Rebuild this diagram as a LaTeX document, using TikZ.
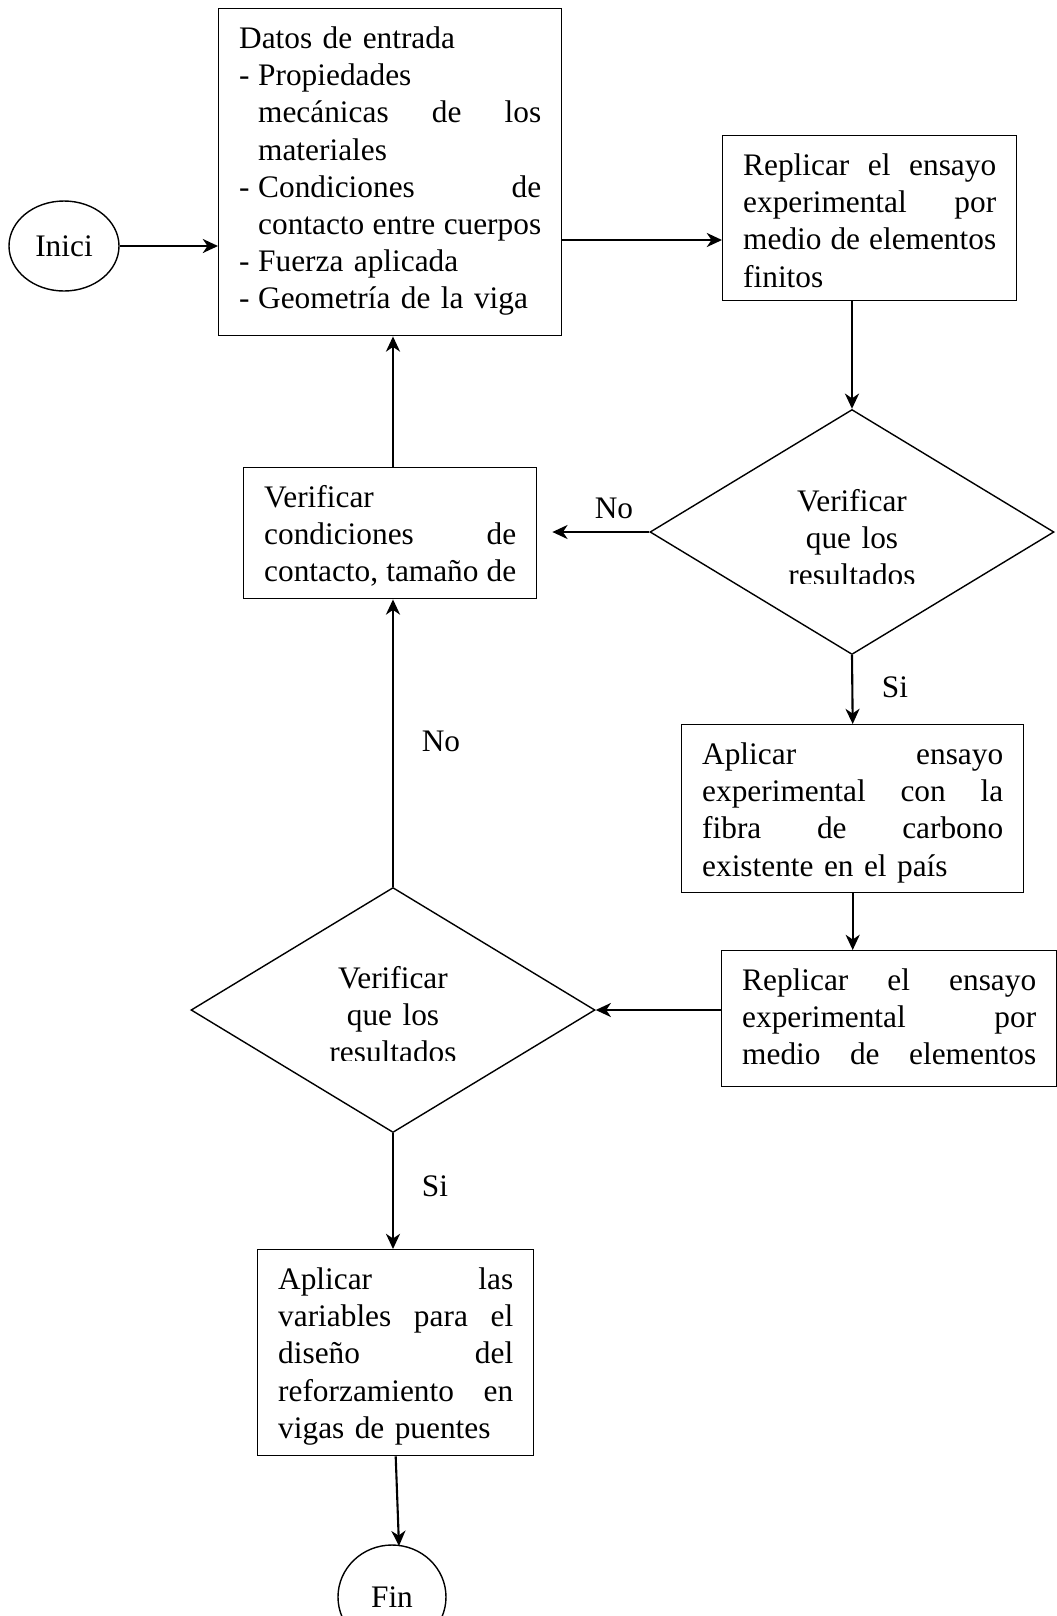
\documentclass[tikz,border=0pt]{standalone}
\usepackage{fontspec}
\setmainfont{Liberation Serif}
\usetikzlibrary{shapes.geometric,arrows.meta,positioning}
\newlength\pxu
\setlength\pxu{0.4276pt}

\begin{document}
\begin{tikzpicture}[x=0.4276pt, y=-0.4276pt,
  every node/.style={font=\fontsize{13.4pt}{15.87pt}\selectfont},
  >={Stealth[length=6.5pt,width=6pt,inset=2pt]},
  proc/.style={rectangle, draw, line width=0.6pt, anchor=north west, inner xsep=20.5\pxu, inner ysep=0pt, text height=40\pxu, align=left},
  decision/.style={diamond, draw, line width=0.6pt, inner sep=0pt, minimum width=404\pxu, minimum height=245\pxu},
  terminal/.style={ellipse, draw, line width=0.6pt, inner sep=0pt},
  flow/.style={->, line width=0.9pt},
  answer/.style={anchor=base}]
\useasboundingbox (0,0) rectangle (1057,1616);

\node (start) [terminal, minimum width=110\pxu, minimum height=90\pxu] at (64,246) {Inici};
\node (inputs) [proc, text width=302\pxu, text depth=287\pxu] at (218,8) {Datos de entrada\\
  \makebox[19\pxu][l]{-}Propiedades\\
  \hspace*{19\pxu}mecánicas\hfill de\hfill los\\
  \hspace*{19\pxu}materiales\\
  \makebox[19\pxu][l]{-}Condiciones\hfill de\\
  \hspace*{19\pxu}contacto\hfill entre\hfill cuerpos\\
  \makebox[19\pxu][l]{-}Fuerza aplicada\\
  \makebox[19\pxu][l]{-}Geometría de la viga};
\node (fem1) [proc, text width=253\pxu, text depth=125\pxu] at (722,135) {Replicar\hfill el\hfill ensayo\\
  experimental\hfill por\\ medio\hfill de\hfill elementos\\ finitos};
\node (check1) [decision] at (852,532) {};
\node (adjust) [proc, text width=252\pxu, text depth=91\pxu] at (243,467) {Verificar\\
  condiciones\hfill de\\ contacto,\hfill tamaño\hfill de};
\node (test) [proc, text width=301\pxu, text depth=128\pxu] at (681,724) {Aplicar\hfill ensayo\\
  experimental\hfill con\hfill la\\ fibra\hfill de\hfill carbono\\ existente en el país};
\node (fem2) [proc, text width=294\pxu, text depth=96\pxu] at (721,950) {Replicar\hfill el\hfill ensayo\\
  experimental\hfill por\\ medio\hfill de\hfill elementos};
\node (check2) [decision] at (393,1010) {};
\node (design) [proc, text width=235\pxu, text depth=166\pxu] at (257,1249) {Aplicar\hfill las\\
  variables\hfill para\hfill el\\ diseño\hfill del\\ reforzamiento\hfill en\\ vigas de puentes};
\node (stop) [terminal, minimum width=108\pxu, minimum height=104\pxu] at (392,1597) {Fin};

% texto recortado de los rombos
\begin{scope}
\clip (600,400) rectangle (1100,583);
\node (check1text) [anchor=base, text width=220\pxu, align=center] at (852,511) {Verificar\\ que los\\ resultados};
\end{scope}
\begin{scope}
\clip (150,880) rectangle (640,1060);
\node (check2text) [anchor=base, text width=220\pxu, align=center] at (393,988) {Verificar\\ que los\\ resultados};
\end{scope}

\node (no1) [answer] at (614,518) {No};
\node (si1) [answer] at (895,697) {Si};
\node (no2) [answer] at (441,751) {No};
\node (si2) [answer] at (435,1196) {Si};

\coordinate (femin) at (722,240);
\coordinate (finin) at (399,1546);
\draw [flow] (start) -- (start -| inputs.west);
\draw [flow] (inputs.east |- femin) -- (femin);
\draw [flow] (fem1.south -| check1.north) -- (check1.north);
\draw [flow, shorten >=6.4pt] (check1.west) -- (check1.west -| adjust.east);
\draw [flow] (check1.south) -- (test.north);
\draw [flow] (test.south) -- (test.south |- fem2.north);
\draw [flow] (check2.east -| fem2.west) -- (check2.east);
\draw [flow] (check2.north) -- (check2.north |- adjust.south);
\draw [flow] (adjust.north -| check2.north) -- (check2.north |- inputs.south);
\draw [flow] (check2.south) -- (check2.south |- design.north);
\draw [flow] (design.south) -- (finin);
\end{tikzpicture}
\end{document}
